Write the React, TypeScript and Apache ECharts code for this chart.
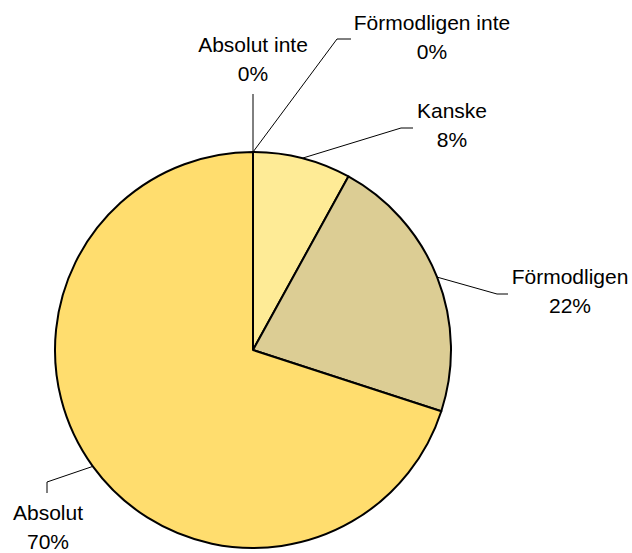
import React, { useEffect, useRef } from "react";
import * as echarts from "echarts";

const categories = ["Absolut inte", "Förmodligen inte", "Kanske", "Förmodligen", "Absolut"];
const percentValues = [0, 0, 8, 22, 70];
const sliceColors = ["#FFF2B0", "#F5E6A8", "#FEEB96", "#DCCD94", "#FFDD6E"];

// label anchor (centre of text block) and elbow points of the leader lines
const labelLayouts = [
  { x: 253, y: 59, line: [[253, 94]] },
  { x: 432, y: 37, line: [[337, 39], [351, 39]] },
  { x: 452, y: 125, line: [[401, 128], [413, 128]] },
  { x: 570, y: 291, line: [[497, 294], [508, 294]] },
  { x: 48, y: 527, line: [[47, 482], [47, 493]] },
];

export default function App() {
  const ref = useRef<HTMLDivElement>(null);
  useEffect(() => {
    const chart = echarts.init(ref.current!, null, { renderer: "svg" });
    const cx = 253;
    const cy = 350;
    const r = 198;
    chart.setOption({
      animation: false,
      backgroundColor: "#ffffff",
      series: [
        {
          type: "pie",
          center: [cx, cy],
          radius: r,
          startAngle: 90,
          clockwise: true,
          avoidLabelOverlap: false,
          minShowLabelAngle: 0,
          stillShowZeroSum: true,
          itemStyle: { borderColor: "#000000", borderWidth: 2 },
          label: {
            show: true,
            position: "outside",
            formatter: "{b}\n{c}%",
            fontFamily: "Liberation Sans, Arial, sans-serif",
            fontSize: 21,
            lineHeight: 29,
            color: "#000000",
            align: "center",
          },
          labelLine: {
            show: true,
            length: 20,
            length2: 10,
            lineStyle: { color: "#000000", width: 1 },
          },
          labelLayout: (params: any) => {
            const lay = labelLayouts[params.dataIndex];
            // start point: slice's outer edge at mid-angle, computed from data
            const total = percentValues.reduce((a, b) => a + b, 0);
            let acc = 0;
            for (let i = 0; i < params.dataIndex; i++) acc += percentValues[i];
            const mid = ((acc + percentValues[params.dataIndex] / 2) / total) * Math.PI * 2;
            const start = [cx + r * Math.sin(mid), cy - r * Math.cos(mid)];
            const pts = [start, ...lay.line];
            if (pts.length === 2) pts.push(lay.line[0]);
            return {
              x: lay.x,
              y: lay.y,
              align: "center",
              verticalAlign: "middle",
              labelLinePoints: pts,
            };
          },
          data: categories.map((name, i) => ({
            name,
            value: percentValues[i],
            itemStyle: { color: sliceColors[i] },
          })),
        },
      ],
    });
    return () => chart.dispose();
  }, []);
  return (
    <div
      ref={ref}
      style={{ position: "fixed", left: 0, top: 0, width: 632, height: 553 }}
    />
  );
}
